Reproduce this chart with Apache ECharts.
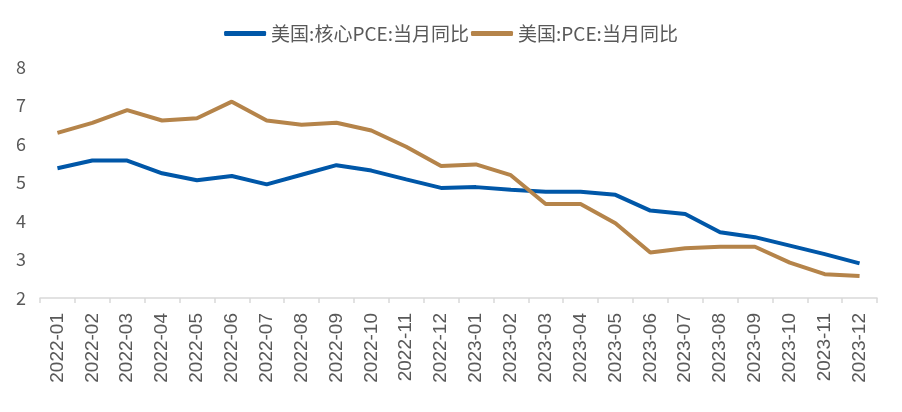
<!DOCTYPE html>
<html><head><meta charset="utf-8">
<script src="https://cdn.jsdelivr.net/npm/echarts@6/dist/echarts.min.js"></script>
<style>html,body{margin:0;padding:0;background:#fff}#c{width:902px;height:412px}</style>
</head><body><div id="c"></div>
<script>
const categories = ['2022-01','2022-02','2022-03','2022-04','2022-05','2022-06','2022-07','2022-08','2022-09','2022-10','2022-11','2022-12','2023-01','2023-02','2023-03','2023-04','2023-05','2023-06','2023-07','2023-08','2023-09','2023-10','2023-11','2023-12'];
const corePCE = [5.37,5.57,5.57,5.24,5.06,5.17,4.95,5.2,5.45,5.31,5.08,4.86,4.88,4.81,4.76,4.76,4.68,4.27,4.18,3.71,3.58,3.36,3.14,2.9];
const PCE = [6.29,6.55,6.88,6.61,6.67,7.1,6.61,6.5,6.55,6.35,5.93,5.43,5.47,5.19,4.44,4.44,3.94,3.18,3.29,3.33,3.33,2.92,2.62,2.57];
const yTicks = [2,3,4,5,6,7,8];
const names = ['美国:核心PCE:当月同比','美国:PCE:当月同比'];
const font = '"Noto Sans CJK SC","Noto Sans",sans-serif';
const chart = echarts.init(document.getElementById('c'));
chart.setOption({
  animation:false,
  textStyle:{fontFamily:font},
  legend:{
    top:19, left:'center', itemGap:2, itemWidth:42, itemHeight:5, icon:'roundRect',
    textStyle:{fontSize:19,color:'#595959',fontFamily:font},
    data:names
  },
  grid:{left:40,right:25,top:67,bottom:114,containLabel:false},
  xAxis:{
    type:'category', data:categories, boundaryGap:true,
    axisLine:{lineStyle:{color:'#d9d9d9',width:1.5}},
    axisTick:{show:true,alignWithLabel:false,length:5,lineStyle:{color:'#d9d9d9',width:1.5}},
    axisLabel:{rotate:90,interval:0,fontSize:19,color:'#595959',margin:15,fontFamily:'"Liberation Sans",sans-serif'}
  },
  yAxis:{
    type:'value', min:yTicks[0], max:yTicks[yTicks.length-1], interval:1,
    axisLine:{show:false}, axisTick:{show:false}, splitLine:{show:false},
    axisLabel:{fontSize:18,color:'#595959',margin:14,fontFamily:font}
  },
  series:[
    {name:names[0],type:'line',data:corePCE,symbol:'none',lineStyle:{width:4,color:'#0057A8'},itemStyle:{color:'#0057A8'}},
    {name:names[1],type:'line',data:PCE,symbol:'none',lineStyle:{width:4,color:'#B5844A'},itemStyle:{color:'#B5844A'}}
  ]
});
</script></body></html>
